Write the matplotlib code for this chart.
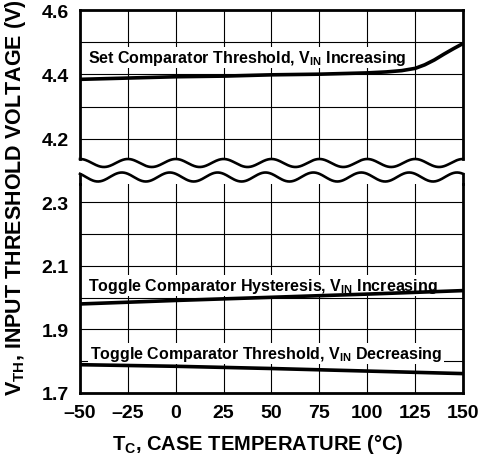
import numpy as np
import matplotlib
matplotlib.use("Agg")
import matplotlib.pyplot as plt
from matplotlib.lines import Line2D
from matplotlib.patches import Rectangle

plt.rcParams['font.family'] = ['Liberation Sans', 'DejaVu Sans']
plt.rcParams['font.weight'] = 'bold'
plt.rcParams['mathtext.fontset'] = 'custom'
plt.rcParams['mathtext.rm'] = 'Liberation Sans:bold'
plt.rcParams['mathtext.bf'] = 'Liberation Sans:bold'
plt.rcParams['mathtext.it'] = 'Liberation Sans:bold'
plt.rcParams['mathtext.default'] = 'bf'

# ---- data ----
temp_set = [-50, -25, 0, 25, 50, 75, 100, 110, 118, 125, 130, 135, 140, 145, 150]
v_set = [4.385, 4.389, 4.393, 4.395, 4.399, 4.401, 4.405, 4.408, 4.412, 4.419,
         4.430, 4.445, 4.463, 4.480, 4.496]

temp_lin = [-50, 0, 50, 100, 150]
v_hyst = [1.980, 1.991, 2.001, 2.011, 2.022]
v_thr = [1.789, 1.784, 1.777, 1.769, 1.761]

x_ticks = [-50, -25, 0, 25, 50, 75, 100, 125, 150]
x_ticklabels = ['\u201350', '\u201325', '0', '25', '50', '75', '100', '125', '150']
top_yticks = [4.2, 4.3, 4.4, 4.5, 4.6]
top_yticklabels = ['4.2', '', '4.4', '', '4.6']
bot_yticks = [1.7, 1.8, 1.9, 2.0, 2.1, 2.2, 2.3]
bot_yticklabels = ['1.7', '', '1.9', '', '2.1', '', '2.3']

label_set = r'Set Comparator Threshold, $\mathbf{V_{IN}}$ Increasing'
label_hyst = r'Toggle Comparator Hysteresis, $\mathbf{V_{IN}}$ Increasing'
label_thr = r'Toggle Comparator Threshold, $\mathbf{V_{IN}}$ Decreasing'
xlabel = r'$\mathbf{T_C}$, CASE TEMPERATURE (°C)'
ylabel = r'$\mathbf{V_{TH}}$, INPUT THRESHOLD VOLTAGE (V)'

# ---- layout ----
W, H = 485, 456
fig = plt.figure(figsize=(W / 100, H / 100), dpi=100)


def fx(px):
    return px / W


def fy(py):
    return 1 - py / H


L, R = 80, 463
top_t, top_b = 11, 160
bot_t, bot_b = 185, 394

ax_top = fig.add_axes([fx(L), fy(top_b), (R - L) / W, (top_b - top_t) / H])
ax_bot = fig.add_axes([fx(L), fy(bot_b), (R - L) / W, (bot_b - bot_t) / H])

ax_top.set_ylim(4.6 - (top_b - top_t) / 322.5, 4.6)
ax_bot.set_ylim(1.7, 1.7 + (bot_b - bot_t) / 318.0)
for ax in (ax_top, ax_bot):
    ax.set_xlim(-50, 150)
    ax.set_xticks(x_ticks)
    ax.tick_params(length=0, labelsize=14, pad=8)
    for s in ax.spines.values():
        s.set_linewidth(2.0)
        s.set_zorder(5)

ax_top.set_yticks(top_yticks)
ax_top.set_yticklabels(top_yticklabels)
ax_top.set_xticklabels([])
ax_top.spines['bottom'].set_visible(False)
ax_bot.set_yticks(bot_yticks)
ax_bot.set_yticklabels(bot_yticklabels)
ax_bot.set_xticklabels(x_ticklabels)
ax_bot.spines['top'].set_visible(False)
for lab in ax_top.get_yticklabels() + ax_bot.get_yticklabels() + ax_bot.get_xticklabels():
    lab.set_fontweight('bold')

# grid lines drawn explicitly
for ax, yt in ((ax_top, top_yticks), (ax_bot, bot_yticks)):
    for t in x_ticks:
        ax.axvline(t, color='black', lw=0.8, zorder=1)
    for t in yt:
        ax.axhline(t, color='black', lw=0.8, zorder=1)

# curves
ax_top.plot(temp_set, v_set, color='black', lw=2.6, zorder=4, solid_capstyle='butt')
ax_bot.plot(temp_lin, v_hyst, color='black', lw=2.6, zorder=4, solid_capstyle='butt')
ax_bot.plot(temp_lin, v_thr, color='black', lw=2.6, zorder=4, solid_capstyle='butt')

texts = [
    ax_top.text(-45.8, 4.439, label_set, fontsize=11.5, fontweight='bold', va='baseline',
                ha='left', zorder=3),
    ax_bot.text(-45.8, 2.024, label_hyst, fontsize=11.5, fontweight='bold', va='baseline',
                ha='left', zorder=3),
    ax_bot.text(-44.8, 1.810, label_thr, fontsize=11.5, fontweight='bold', va='baseline',
                ha='left', zorder=3),
]

# white backing boxes behind the curve labels (sized from the rendered text)
fig.canvas.draw()
renderer = fig.canvas.get_renderer()
for t in texts:
    bb = t.get_window_extent(renderer)
    ax = t.axes
    inv = ax.transAxes.inverted()
    (x0, y0), (x1, y1) = inv.transform([(bb.x0 - 2, bb.y0 - 1), (bb.x1 + 2, bb.y1 + 1)])
    ax.add_patch(Rectangle((x0, y0), x1 - x0, y1 - y0, transform=ax.transAxes,
                           facecolor='white', edgecolor='none', zorder=2))

# wavy break lines
period = (R - L) / 8
xs = np.linspace(L, R, 600)
y_up = 164 - 4.0 * np.cos(2 * np.pi * (xs - L) / period)
y_lo = 178 - 4.5 * np.cos(2 * np.pi * (xs - (L - 6)) / period)
fig.add_artist(Line2D(fx(xs), fy(y_up), color='black', lw=1.9, transform=fig.transFigure))
fig.add_artist(Line2D(fx(xs), fy(y_lo), color='black', lw=1.9, transform=fig.transFigure))
for xe, ye in ((L, y_lo[0]), (R, y_lo[-1])):
    fig.add_artist(Line2D([fx(xe), fx(xe)], [fy(bot_t), fy(ye)], color='black', lw=2.0,
                          transform=fig.transFigure))
for xe, ye in ((L, y_up[0]), (R, y_up[-1])):
    fig.add_artist(Line2D([fx(xe), fx(xe)], [fy(top_b), fy(ye)], color='black', lw=2.0,
                          transform=fig.transFigure))

fig.text(fx(258), fy(450), xlabel, fontsize=14.5, fontweight='bold', ha='center',
         va='baseline')
fig.text(fx(16), fy(198), ylabel, fontsize=15.5, fontweight='bold', ha='center', va='center',
         rotation=90)

fig.savefig('out.png', dpi=100)
